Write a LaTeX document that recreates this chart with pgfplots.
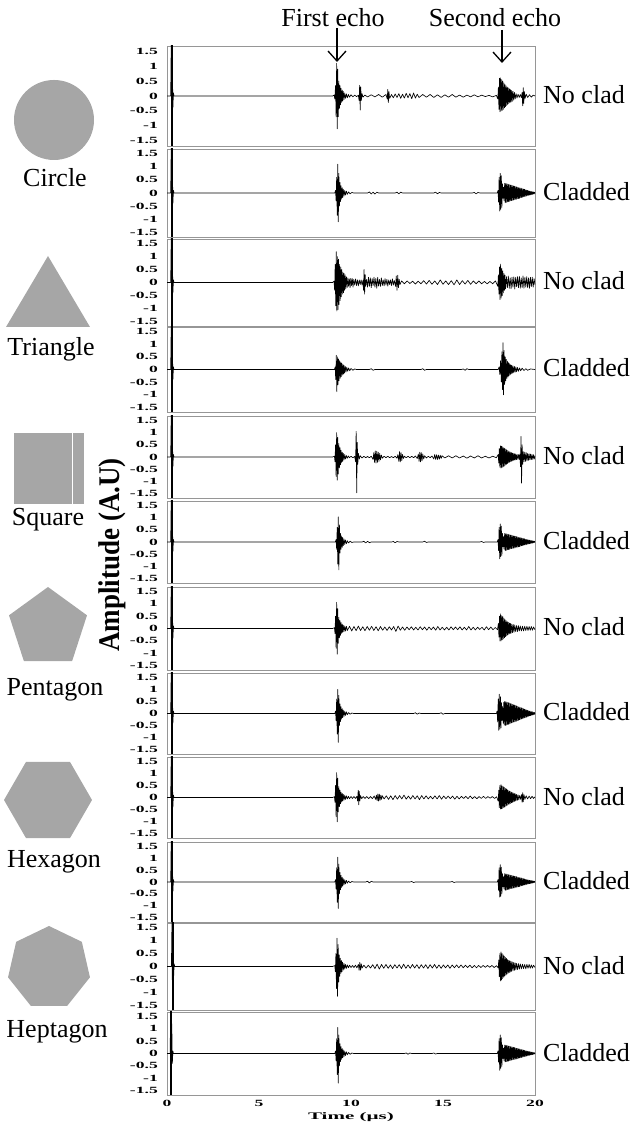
\documentclass[border=0pt]{standalone}
\usepackage{fontspec}
\setmainfont{Liberation Serif}
\usepackage{graphicx}
\usepackage{pgfplots}
\pgfplotsset{compat=1.18}
\usetikzlibrary{arrows.meta, shapes.geometric}
\definecolor{shapegray}{RGB}{166,166,166}
\definecolor{framegray}{RGB}{150,150,150}
\newcommand{\tk}[1]{\scalebox{1.85}[1]{\fontsize{9.5}{10}\selectfont\bfseries #1}}
\newcommand{\lab}{\fontsize{26}{28}\selectfont}
\pgfplotsset{
  panel/.style={scale only axis, width=368pt, anchor=south west,
    xmin=0, xmax=20, ymin=-1.68, ymax=1.68,
    axis line style={draw=framegray, line width=0.7pt},
    ytick={-1.5,-1,-0.5,0,0.5,1,1.5},
    yticklabels={\tk{-1.5},\tk{-1},\tk{-0.5},\tk{0},\tk{0.5},\tk{1},\tk{1.5}},
    xtick=\empty, major tick length=0pt,
    yticklabel style={inner sep=0pt, xshift=-9pt},
  },
  sig/.style={black, line width=0.65pt, line join=round, mark=none},
  pulse/.style={black, line width=1.3pt, mark=none},
}
\begin{document}
\begin{tikzpicture}[x=1pt,y=1pt]
\useasboundingbox (0,0) rectangle (635,1124);

% ---- panel 1: circle, no clad
\begin{axis}[panel, at={(167pt,978pt)}, height=100pt]
\addplot[pulse] coordinates {(0.27,-1.8) (0.27,1.8)};
\addplot[sig] coordinates {(0,0) (0.20,0) (0.23,1.8) (0.26,-1.8) (0.29,1.2) (0.32,-0.4) (0.35,0.1) (0.38,0) (9.0,0) (9.08,0.03)
(9.12,-0.1) (9.16,0.35) (9.19,-0.7) (9.22,1.1) (9.25,-1.1) (9.28,0.9) (9.31,-0.7) (9.34,0.5) (9.37,-0.42) (9.40,0.35) (9.43,-0.3) (9.46,0.26) (9.49,-0.22) (9.52,0.2) (9.55,-0.17) (9.58,0.15) (9.62,-0.12) (9.66,0.1) (9.70,-0.08) (9.75,0.07) (9.80,-0.06) (9.86,0.05) (9.92,-0.04) (10.0,0.04) (10.1,-0.03) (10.2,0.03) (10.3,-0.02) (10.40,0.02)
(10.44,-0.15) (10.47,0.36) (10.50,-0.47) (10.53,0.3) (10.56,-0.15) (10.60,0.08) (10.65,-0.04) (10.75,0.03)
(10.9,-0.03) (11.1,0.04) (11.3,-0.03) (11.5,0.05) (11.7,-0.04) (11.9,0.05)
(11.97,-0.1) (12.0,0.22) (12.03,-0.22) (12.06,0.15) (12.1,-0.08) (12.2,0.05)
(12.3,-0.06) (12.4,0.07) (12.5,-0.05) (12.6,0.08) (12.7,-0.08) (12.8,0.06) (12.9,-0.07) (13.0,0.09) (13.1,-0.06) (13.2,0.08) (13.3,-0.09) (13.4,0.1) (13.5,-0.07) (13.6,0.06) (13.7,-0.05)
(13.9,0.05) (14.1,-0.04) (14.3,0.05) (14.5,-0.05) (14.7,0.04) (14.9,-0.05) (15.1,0.04) (15.3,-0.04) (15.5,0.05) (15.7,-0.04) (15.9,0.03) (16.1,-0.04) (16.3,0.03) (16.5,-0.03) (16.7,0.04) (16.9,-0.03) (17.1,0.03) (17.3,-0.02) (17.5,0.02) (17.7,-0.03) (17.9,0.02)
(17.98,-0.1) (18.01,0.3) (18.04,-0.45) (18.07,0.6) (18.10,-0.53) (18.13,0.61) (18.16,-0.5) (18.19,0.55) (18.22,-0.48) (18.25,0.5) (18.28,-0.45) (18.31,0.44) (18.34,-0.4) (18.37,0.38) (18.40,-0.36) (18.43,0.34) (18.46,-0.32) (18.49,0.3) (18.52,-0.28) (18.55,0.27) (18.58,-0.25) (18.61,0.24) (18.64,-0.22) (18.67,0.21) (18.70,-0.2) (18.73,0.19) (18.76,-0.18) (18.80,0.16) (18.84,-0.14) (18.88,0.12) (18.92,-0.1) (18.97,0.08) (19.02,-0.07) (19.08,0.06) (19.14,-0.05) (19.2,0.05) (19.26,-0.06)
(19.30,0.12) (19.33,-0.33) (19.36,0.28) (19.39,-0.25) (19.42,0.15) (19.46,-0.08) (19.52,0.06) (19.6,-0.05) (19.7,0.04) (19.8,-0.04) (19.9,0.03) (20,0)};
\end{axis}

% ---- panel 2: circle, cladded
\begin{axis}[panel, at={(167pt,887pt)}, height=88pt]
\addplot[pulse] coordinates {(0.27,-1.8) (0.27,1.8)};
\addplot[sig] coordinates {(0,0) (0.20,0) (0.23,1.8) (0.26,-1.8) (0.29,1.2) (0.32,-0.4) (0.35,0.1) (0.38,0)
(9.12,0) (9.16,0.1) (9.19,-0.3) (9.22,0.6) (9.25,-0.85) (9.28,1.1) (9.31,-1.1) (9.34,0.75) (9.37,-0.5) (9.40,0.4) (9.43,-0.33) (9.46,0.28) (9.49,-0.24) (9.52,0.2) (9.55,-0.17) (9.58,0.14) (9.62,-0.12) (9.66,0.1) (9.70,-0.08) (9.75,0.07) (9.80,-0.05) (9.87,0.04) (9.95,-0.03) (10.05,0.02) (10.15,0)
(10.9,0) (11.0,0.04) (11.1,-0.04) (11.2,0.03) (11.3,-0.04) (11.4,0.03) (11.5,0) (12.4,0) (12.5,0.03) (12.6,-0.03) (12.7,0.03) (12.8,0) (14.5,0) (14.6,0.03) (14.7,-0.03) (14.8,0.02) (14.9,0) (16.6,0) (16.7,0.02) (16.8,-0.03) (16.9,0.02) (17.0,0) (17.95,0)
(17.99,0.1) (18.02,-0.35) (18.05,0.6) (18.08,-0.69) (18.11,0.75) (18.14,-0.62) (18.17,0.66) (18.20,-0.55) (18.23,0.35) (18.26,-0.2) (18.29,0.22) (18.32,-0.3)
(18.35,0.37) (18.38,-0.37) (18.41,0.36) (18.44,-0.36) (18.47,0.35) (18.50,-0.34) (18.53,0.34) (18.56,-0.33) (18.59,0.32) (18.62,-0.32) (18.65,0.31) (18.68,-0.30) (18.71,0.30) (18.74,-0.29) (18.77,0.28) (18.80,-0.28) (18.83,0.27) (18.86,-0.26) (18.89,0.26) (18.92,-0.25) (18.95,0.24) (18.98,-0.24) (19.01,0.23) (19.04,-0.22) (19.07,0.22) (19.10,-0.21) (19.13,0.20) (19.16,-0.20) (19.19,0.19) (19.22,-0.18) (19.25,0.18) (19.28,-0.17) (19.31,0.16) (19.34,-0.16) (19.37,0.15) (19.40,-0.14) (19.43,0.14) (19.46,-0.13) (19.49,0.12) (19.52,-0.12) (19.55,0.11) (19.58,-0.10) (19.61,0.10) (19.64,-0.09) (19.67,0.08) (19.70,-0.08) (19.73,0.07) (19.76,-0.07) (19.79,0.06) (19.82,-0.06) (19.85,0.05) (19.88,-0.05) (19.91,0.04) (19.94,-0.04) (19.97,0.03) (20.00,-0.02)};
\end{axis}

% ---- panel 3: triangle, no clad
\begin{axis}[panel, at={(167pt,798pt)}, height=87pt]
\addplot[pulse] coordinates {(0.27,-1.8) (0.27,1.8)};
\addplot[sig] coordinates {(0,0) (0.20,0) (0.23,1.8) (0.26,-1.8) (0.29,1.2) (0.32,-0.4) (0.35,0.1) (0.38,0) (9.0,0) (9.08,0.05)
(9.11,-0.3) (9.14,0.7) (9.17,-0.9) (9.20,1.19) (9.23,-1.1) (9.26,1.0) (9.29,-1.05) (9.32,0.9) (9.35,-0.85) (9.38,0.7) (9.41,-0.7) (9.44,0.6) (9.47,-0.55) (9.50,0.5) (9.53,-0.45) (9.56,0.4) (9.59,-0.4) (9.62,0.35) (9.65,-0.3) (9.68,0.3) (9.71,-0.25) (9.75,0.22) (9.79,-0.2) (9.83,0.18) (9.87,-0.15) (9.91,0.14) (9.95,-0.2) (9.99,0.16) (10.03,-0.12) (10.07,0.15) (10.11,-0.18) (10.15,0.12) (10.2,-0.1) (10.25,0.14) (10.3,-0.12) (10.35,0.1) (10.4,-0.13) (10.45,0.1) (10.5,-0.08) (10.55,0.1) (10.6,-0.1) (10.65,0.08)
(10.68,-0.3) (10.71,0.5) (10.74,-0.45) (10.77,0.3) (10.8,-0.15)
(10.85,0.12) (10.9,-0.18) (10.95,0.2) (11.0,-0.15) (11.05,0.18) (11.1,-0.2) (11.15,0.15) (11.2,-0.12) (11.25,0.2) (11.3,-0.18) (11.35,0.16) (11.4,-0.22) (11.45,0.2) (11.5,-0.14) (11.55,0.12) (11.6,-0.15) (11.65,0.18) (11.7,-0.12) (11.75,0.1) (11.8,-0.13) (11.85,0.15) (11.9,-0.1) (11.95,0.12) (12.0,-0.14) (12.05,0.1) (12.1,-0.08) (12.15,0.1) (12.2,-0.12) (12.25,0.14) (12.3,-0.1) (12.35,0.08)
(12.42,-0.15) (12.46,0.25) (12.5,-0.3) (12.54,0.28) (12.58,-0.2) (12.62,0.12) (12.66,-0.08)
(12.75,0.06) (12.9,-0.05) (13.05,0.06) (13.2,-0.04) (13.35,0.05) (13.5,-0.06) (13.65,0.05) (13.8,-0.05) (13.95,0.07) (14.1,-0.06) (14.25,0.08) (14.4,-0.07) (14.55,0.06) (14.7,-0.08) (14.85,0.1) (15.0,-0.07) (15.15,0.06) (15.3,-0.08) (15.45,0.07) (15.6,-0.09) (15.75,0.1) (15.9,-0.08) (16.05,0.07) (16.2,-0.06) (16.35,0.08) (16.5,-0.07) (16.65,0.06) (16.8,-0.05) (16.95,0.06) (17.1,-0.05) (17.25,0.04) (17.4,-0.05) (17.55,0.04) (17.7,-0.05) (17.85,0.06)
(17.98,-0.15) (18.01,0.3) (18.04,-0.45) (18.07,0.6) (18.10,-0.66) (18.13,0.71) (18.16,-0.6) (18.19,0.55) (18.22,-0.5) (18.25,0.45) (18.28,-0.4) (18.31,0.35) (18.34,-0.3) (18.37,0.28) (18.40,-0.25)
(18.45,0.22) (18.5,-0.2) (18.55,0.25) (18.6,-0.22) (18.65,0.18) (18.7,-0.24) (18.75,0.2) (18.8,-0.18) (18.85,0.22) (18.9,-0.25) (18.95,0.2) (19.0,-0.16) (19.05,0.22) (19.1,-0.2) (19.15,0.24) (19.2,-0.22) (19.25,0.18) (19.3,-0.2) (19.35,0.25) (19.4,-0.22) (19.45,0.2) (19.5,-0.18) (19.55,0.22) (19.6,-0.2) (19.65,0.18) (19.7,-0.22) (19.75,0.2) (19.8,-0.16) (19.85,0.2) (19.9,-0.18) (19.95,0.15) (20,-0.1)};
\end{axis}

% ---- panel 4: triangle, cladded
\begin{axis}[panel, at={(167pt,712pt)}, height=85pt]
\addplot[pulse] coordinates {(0.27,-1.8) (0.27,1.8)};
\addplot[sig] coordinates {(0,0) (0.20,0) (0.23,1.8) (0.26,-1.8) (0.29,1.2) (0.32,-0.4) (0.35,0.1) (0.38,0)
(9.1,0) (9.14,0.1) (9.17,-0.4) (9.20,0.56) (9.23,-0.88) (9.26,0.5) (9.29,-0.6) (9.32,0.42) (9.35,-0.45) (9.38,0.35) (9.41,-0.35) (9.44,0.3) (9.47,-0.28) (9.50,0.25) (9.53,-0.22) (9.56,0.2) (9.59,-0.18) (9.62,0.16) (9.65,-0.14) (9.69,0.12) (9.73,-0.1) (9.77,0.09) (9.82,-0.07) (9.87,0.06) (9.93,-0.05) (10.0,0.04) (10.1,-0.03) (10.2,0.02) (10.3,0)
(11.0,0) (11.1,0.03) (11.2,-0.03) (11.3,0) (13.8,0) (13.9,0.03) (14.0,-0.03) (14.1,0) (16.0,0) (16.1,0.02) (16.2,-0.03) (16.3,0.03) (16.4,0) (18.0,0)
(18.05,0.1) (18.09,-0.2) (18.13,0.35) (18.17,-0.5) (18.20,0.7) (18.23,-0.8) (18.26,1.06) (18.29,-1.0) (18.32,0.75) (18.35,-0.6) (18.38,0.5) (18.41,-0.45) (18.44,0.4) (18.47,-0.36) (18.50,0.33) (18.53,-0.3) (18.56,0.27) (18.59,-0.25) (18.62,0.23) (18.65,-0.21) (18.68,0.19) (18.71,-0.17) (18.74,0.16) (18.77,-0.15) (18.80,0.14) (18.84,-0.13) (18.88,0.12) (18.92,-0.11) (18.96,0.1) (19.0,-0.09) (19.05,0.08) (19.1,-0.07) (19.16,0.06) (19.22,-0.05) (19.3,0.05) (19.4,-0.04) (19.5,0.03) (19.6,-0.03) (19.75,0.02) (20,0)};
\end{axis}

% ---- panel 5: square, no clad
\begin{axis}[panel, at={(167pt,626pt)}, height=82pt]
\addplot[pulse] coordinates {(0.27,-1.8) (0.27,1.8)};
\addplot[sig] coordinates {(0,0) (0.20,0) (0.23,1.8) (0.26,-1.8) (0.29,1.2) (0.32,-0.4) (0.35,0.1) (0.38,0) (9.0,0) (9.1,0.03)
(9.13,-0.2) (9.16,0.5) (9.19,-0.8) (9.22,1.0) (9.25,-0.95) (9.28,0.8) (9.31,-0.7) (9.34,0.55) (9.37,-0.45) (9.40,0.38) (9.43,-0.32) (9.46,0.28) (9.49,-0.24) (9.52,0.2) (9.55,-0.18) (9.58,0.15) (9.62,-0.12) (9.66,0.1) (9.70,-0.08) (9.75,0.06) (9.80,-0.05) (9.86,0.04) (9.92,-0.03) (10.0,0.03) (10.1,-0.03) (10.2,0.02)
(10.25,-0.2) (10.28,1.05) (10.31,-1.47) (10.34,0.6) (10.37,-0.3) (10.40,0.15) (10.45,-0.08) (10.5,0.05) (10.6,-0.04) (10.7,0.03) (10.8,-0.03) (10.9,0.02) (11.0,-0.03) (11.1,0.03)
(11.2,-0.1) (11.24,0.18) (11.28,-0.22) (11.32,0.25) (11.36,-0.25) (11.40,0.24) (11.44,-0.22) (11.48,0.2) (11.52,-0.18) (11.56,0.15) (11.60,-0.12) (11.65,0.08) (11.7,-0.05) (11.8,0.03) (11.9,-0.03) (12.0,0.03) (12.1,-0.03) (12.2,0.02) (12.3,-0.03) (12.4,0.03) (12.5,-0.05)
(12.55,0.1) (12.6,-0.18) (12.64,0.22) (12.68,-0.2) (12.72,0.18) (12.76,-0.15) (12.8,0.1) (12.85,-0.06) (12.9,0.03) (13.0,-0.03) (13.1,0.03) (13.2,-0.03) (13.3,0.03) (13.4,-0.03) (13.5,0.04) (13.6,-0.06)
(13.66,0.12) (13.70,-0.18) (13.74,0.2) (13.78,-0.2) (13.82,0.18) (13.86,-0.16) (13.90,0.12) (13.95,-0.08) (14.0,0.05) (14.1,-0.04) (14.2,0.03) (14.3,-0.03) (14.4,0.04)
(14.5,-0.08) (14.55,0.1) (14.6,-0.1) (14.65,0.09) (14.7,-0.1) (14.75,0.08) (14.8,-0.09) (14.85,0.07) (14.9,-0.06) (14.95,0.05)
(15.1,-0.04) (15.3,0.05) (15.5,-0.04) (15.7,0.05) (15.9,-0.04) (16.1,0.04) (16.3,-0.05) (16.5,0.04) (16.7,-0.04) (16.9,0.05) (17.1,-0.04) (17.3,0.03) (17.5,-0.04) (17.7,0.03) (17.9,-0.03)
(18.0,0.1) (18.03,-0.25) (18.06,0.35) (18.09,-0.42) (18.12,0.46) (18.15,-0.45) (18.18,0.44) (18.21,-0.43) (18.24,0.42) (18.27,-0.4) (18.30,0.38) (18.33,-0.37) (18.36,0.35) (18.39,-0.33) (18.42,0.32) (18.45,-0.3) (18.48,0.28) (18.51,-0.27) (18.54,0.25) (18.57,-0.24) (18.60,0.22) (18.63,-0.21) (18.66,0.2) (18.69,-0.19) (18.72,0.18) (18.75,-0.17) (18.78,0.16) (18.81,-0.15) (18.84,0.14) (18.87,-0.13) (18.90,0.13) (18.93,-0.12) (18.96,0.12) (18.99,-0.11) (19.03,0.1) (19.07,-0.1) (19.11,0.1) (19.15,-0.1) (19.18,0.12)
(19.21,-0.4) (19.24,0.84) (19.27,-1.07) (19.30,0.5) (19.33,-0.3) (19.36,0.22) (19.40,-0.2) (19.44,0.2) (19.48,-0.18) (19.52,0.18) (19.56,-0.16) (19.60,0.15) (19.64,-0.14) (19.68,0.13) (19.72,-0.12) (19.76,0.12) (19.80,-0.11) (19.84,0.1) (19.88,-0.1) (19.92,0.09) (19.96,-0.08) (20,0.05)};
\end{axis}

% ---- panel 6: square, cladded
\begin{axis}[panel, at={(167pt,541pt)}, height=82pt]
\addplot[pulse] coordinates {(0.27,-1.8) (0.27,1.8)};
\addplot[sig] coordinates {(0,0) (0.20,0) (0.23,1.8) (0.26,-1.8) (0.29,1.2) (0.32,-0.4) (0.35,0.1) (0.38,0)
(9.15,0) (9.19,0.1) (9.22,-0.3) (9.25,0.6) (9.28,-0.9) (9.31,1.03) (9.34,-1.14) (9.37,0.7) (9.40,-0.45) (9.43,0.35) (9.46,-0.3) (9.49,0.25) (9.52,-0.22) (9.55,0.18) (9.58,-0.15) (9.62,0.12) (9.66,-0.1) (9.70,0.08) (9.75,-0.07) (9.80,0.05) (9.87,-0.04) (9.95,0.03) (10.05,-0.02) (10.15,0)
(10.6,0) (10.7,0.03) (10.8,-0.04) (10.9,0.03) (11.0,-0.03) (11.1,0) (12.2,0) (12.3,0.02) (12.4,-0.03) (12.5,0.02) (12.6,0) (13.9,0) (14.0,0.03) (14.1,-0.02) (14.2,0) (17.0,0) (17.1,0.02) (17.2,-0.02) (17.3,0) (17.95,0)
(17.99,0.1) (18.02,-0.35) (18.05,0.6) (18.08,-0.69) (18.11,0.74) (18.14,-0.6) (18.17,0.65) (18.20,-0.55) (18.23,0.35) (18.26,-0.2) (18.29,0.22) (18.32,-0.3)
(18.35,0.35) (18.38,-0.35) (18.41,0.34) (18.44,-0.34) (18.47,0.33) (18.50,-0.32) (18.53,0.32) (18.56,-0.31) (18.59,0.30) (18.62,-0.30) (18.65,0.29) (18.68,-0.28) (18.71,0.28) (18.74,-0.27) (18.77,0.26) (18.80,-0.26) (18.83,0.25) (18.86,-0.25) (18.89,0.24) (18.92,-0.24) (18.95,0.23) (18.98,-0.22) (19.01,0.22) (19.04,-0.21) (19.07,0.20) (19.10,-0.20) (19.13,0.19) (19.16,-0.19) (19.19,0.18) (19.22,-0.17) (19.25,0.17) (19.28,-0.16) (19.31,0.15) (19.34,-0.15) (19.37,0.14) (19.40,-0.13) (19.43,0.13) (19.46,-0.12) (19.49,0.11) (19.52,-0.11) (19.55,0.10) (19.58,-0.09) (19.61,0.09) (19.64,-0.08) (19.67,0.08) (19.70,-0.07) (19.73,0.07) (19.76,-0.06) (19.79,0.06) (19.82,-0.05) (19.85,0.05) (19.88,-0.04) (19.91,0.04) (19.94,-0.03) (19.97,0.03) (20.00,-0.02)};
\end{axis}

% ---- panel 7: pentagon, no clad
\begin{axis}[panel, at={(167pt,454pt)}, height=83pt]
\addplot[pulse] coordinates {(0.27,-1.8) (0.27,1.8)};
\addplot[sig] coordinates {(0,0) (0.20,0) (0.23,1.8) (0.26,-1.8) (0.29,1.2) (0.32,-0.4) (0.35,0.1) (0.38,0) (9.0,0) (9.1,0.03)
(9.13,-0.2) (9.16,0.5) (9.19,-0.8) (9.22,1.06) (9.25,-1.04) (9.28,0.8) (9.31,-0.6) (9.34,0.45) (9.37,-0.38) (9.40,0.32) (9.43,-0.28) (9.46,0.24) (9.49,-0.2) (9.52,0.18) (9.55,-0.15) (9.58,0.13) (9.62,-0.12) (9.66,0.1) (9.70,-0.1) (9.75,0.09)
(9.80,-0.08) (9.92,0.09) (10.04,-0.1) (10.16,0.08) (10.28,-0.09) (10.40,0.1) (10.52,-0.08) (10.64,0.07) (10.76,-0.09) (10.88,0.08) (11.00,-0.07) (11.12,0.09) (11.24,-0.08) (11.36,0.07) (11.48,-0.09) (11.60,0.08) (11.72,-0.07) (11.84,0.06) (11.96,-0.08) (12.08,0.07) (12.20,-0.06) (12.32,0.08) (12.44,-0.12) (12.56,0.1) (12.68,-0.07) (12.80,0.06) (12.92,-0.07) (13.04,0.06) (13.16,-0.05) (13.28,0.07) (13.40,-0.06) (13.52,0.05) (13.64,-0.06) (13.76,0.07) (13.88,-0.05) (14.00,0.06) (14.12,-0.07) (14.24,0.06) (14.36,-0.05) (14.48,0.06) (14.60,-0.07) (14.72,0.08) (14.84,-0.06) (14.96,0.05) (15.08,-0.06) (15.20,0.05) (15.32,-0.06) (15.44,0.07) (15.56,-0.05) (15.68,0.06) (15.80,-0.05) (15.92,0.07) (16.04,-0.06) (16.16,0.05) (16.28,-0.06) (16.40,0.08) (16.52,-0.06) (16.64,0.05) (16.76,-0.06) (16.88,0.05) (17.00,-0.04) (17.12,0.05) (17.24,-0.06) (17.36,0.07) (17.48,-0.05) (17.60,0.06) (17.72,-0.05) (17.84,0.04) (17.96,-0.05)
(18.01,0.2) (18.04,-0.35) (18.07,0.5) (18.10,-0.51) (18.13,0.59) (18.16,-0.5) (18.19,0.52) (18.22,-0.46) (18.25,0.48) (18.28,-0.42) (18.31,0.42) (18.34,-0.38) (18.37,0.36) (18.40,-0.33) (18.43,0.32) (18.46,-0.3) (18.49,0.28) (18.52,-0.26) (18.55,0.25) (18.58,-0.23) (18.61,0.22) (18.64,-0.21) (18.67,0.2) (18.70,-0.19) (18.74,0.18) (18.78,-0.17) (18.82,0.16) (18.86,-0.15) (18.90,0.14) (18.95,-0.13) (19.00,0.12) (19.05,-0.12) (19.10,0.11) (19.15,-0.1) (19.20,0.1) (19.26,-0.1) (19.32,0.09) (19.38,-0.1) (19.44,0.09) (19.50,-0.08) (19.56,0.09) (19.62,-0.08) (19.68,0.08) (19.74,-0.07) (19.80,0.08) (19.86,-0.07) (19.92,0.06) (20,-0.05)};
\end{axis}

% ---- panel 8: pentagon, cladded
\begin{axis}[panel, at={(167pt,370pt)}, height=81pt]
\addplot[pulse] coordinates {(0.27,-1.8) (0.27,1.8)};
\addplot[sig] coordinates {(0,0) (0.20,0) (0.23,1.8) (0.26,-1.8) (0.29,1.2) (0.32,-0.4) (0.35,0.1) (0.38,0)
(9.12,0) (9.16,0.1) (9.19,-0.3) (9.22,0.6) (9.25,-0.85) (9.28,1.0) (9.31,-1.2) (9.34,0.75) (9.37,-0.5) (9.40,0.4) (9.43,-0.33) (9.46,0.28) (9.49,-0.24) (9.52,0.2) (9.55,-0.17) (9.58,0.14) (9.62,-0.12) (9.66,0.1) (9.70,-0.08) (9.75,0.07) (9.80,-0.05) (9.87,0.04) (9.95,-0.03) (10.05,0.02) (10.15,0)
(13.4,0) (13.5,0.03) (13.6,-0.03) (13.7,0.02) (13.8,0) (14.8,0) (14.9,0.03) (15.0,-0.03) (15.1,0) (17.9,0)
(17.94,0.1) (17.97,-0.35) (18.00,0.6) (18.03,-0.7) (18.06,0.8) (18.09,-0.65) (18.12,0.7) (18.15,-0.6) (18.18,0.45) (18.21,-0.3) (18.24,0.3) (18.27,-0.4) (18.30,0.46) (18.32,-0.48)
(18.35,0.50) (18.38,-0.50) (18.41,0.49) (18.44,-0.48) (18.47,0.47) (18.50,-0.46) (18.53,0.46) (18.56,-0.45) (18.59,0.44) (18.62,-0.43) (18.65,0.42) (18.68,-0.41) (18.71,0.40) (18.74,-0.39) (18.77,0.38) (18.80,-0.37) (18.83,0.36) (18.86,-0.35) (18.89,0.35) (18.92,-0.34) (18.95,0.33) (18.98,-0.32) (19.01,0.31) (19.04,-0.30) (19.07,0.29) (19.10,-0.28) (19.13,0.27) (19.16,-0.26) (19.19,0.25) (19.22,-0.24) (19.25,0.24) (19.28,-0.23) (19.31,0.22) (19.34,-0.21) (19.37,0.20) (19.40,-0.19) (19.43,0.18) (19.46,-0.17) (19.49,0.16) (19.52,-0.16) (19.55,0.15) (19.58,-0.14) (19.61,0.13) (19.64,-0.12) (19.67,0.11) (19.70,-0.10) (19.73,0.10) (19.76,-0.09) (19.79,0.08) (19.82,-0.07) (19.85,0.07) (19.88,-0.06) (19.91,0.05) (19.94,-0.05) (19.97,0.04) (20.00,-0.03)};
\end{axis}

% ---- panel 9: hexagon, no clad
\begin{axis}[panel, at={(167pt,286pt)}, height=81pt]
\addplot[pulse] coordinates {(0.27,-1.8) (0.27,1.8)};
\addplot[sig] coordinates {(0,0) (0.20,0) (0.23,1.8) (0.26,-1.8) (0.29,1.2) (0.32,-0.4) (0.35,0.1) (0.38,0) (9.0,0) (9.1,0.03)
(9.13,-0.2) (9.16,0.5) (9.19,-0.8) (9.22,1.03) (9.25,-1.01) (9.28,0.8) (9.31,-0.6) (9.34,0.45) (9.37,-0.38) (9.40,0.3) (9.43,-0.26) (9.46,0.22) (9.49,-0.19) (9.52,0.17) (9.55,-0.15) (9.58,0.13) (9.62,-0.11) (9.66,0.1) (9.70,-0.08) (9.75,0.07) (9.80,-0.06) (9.86,0.05) (9.92,-0.05) (10.0,0.04) (10.08,-0.04) (10.16,0.04) (10.24,-0.04) (10.32,0.05)
(10.36,-0.15) (10.39,0.3) (10.42,-0.3) (10.45,0.25) (10.48,-0.15) (10.52,0.08) (10.58,-0.05) (10.66,0.04) (10.76,-0.04) (10.86,0.04) (10.96,-0.05) (11.06,0.04) (11.16,-0.05) (11.26,0.06)
(11.34,-0.08) (11.38,0.1) (11.42,-0.13) (11.46,0.15) (11.50,-0.15) (11.54,0.14) (11.58,-0.12) (11.62,0.1) (11.66,-0.08) (11.70,0.07)
(11.80,-0.06) (11.92,0.07) (12.04,-0.08) (12.16,0.07) (12.28,-0.09) (12.40,0.08) (12.52,-0.07) (12.64,0.08) (12.76,-0.06) (12.88,0.1) (13.00,-0.07) (13.12,0.06) (13.24,-0.07) (13.36,0.08) (13.48,-0.06) (13.60,0.07) (13.72,-0.09) (13.84,0.08) (13.96,-0.06) (14.08,0.07) (14.20,-0.06) (14.32,0.05) (14.44,-0.06) (14.56,0.07) (14.68,-0.06) (14.80,0.08) (14.92,-0.07) (15.04,0.06) (15.16,-0.05) (15.28,0.06) (15.40,-0.05) (15.52,0.06) (15.64,-0.07) (15.76,0.05) (15.88,-0.06) (16.00,0.05) (16.12,-0.04) (16.24,0.05) (16.36,-0.05) (16.48,0.06) (16.60,-0.05) (16.72,0.04) (16.84,-0.05) (16.96,0.04) (17.08,-0.04) (17.20,0.05) (17.32,-0.04) (17.44,0.04) (17.56,-0.03) (17.68,0.04) (17.80,-0.04) (17.92,0.03)
(18.00,-0.15) (18.03,0.3) (18.06,-0.42) (18.09,0.5) (18.12,-0.48) (18.15,0.53) (18.18,-0.47) (18.21,0.48) (18.24,-0.45) (18.27,0.45) (18.30,-0.42) (18.33,0.42) (18.36,-0.4) (18.39,0.38) (18.42,-0.36) (18.45,0.35) (18.48,-0.33) (18.51,0.32) (18.54,-0.3) (18.57,0.28) (18.60,-0.27) (18.63,0.26) (18.66,-0.25) (18.69,0.24) (18.72,-0.22) (18.75,0.21) (18.78,-0.2) (18.81,0.19) (18.84,-0.18) (18.87,0.17) (18.90,-0.16) (18.93,0.15) (18.96,-0.14) (19.00,0.13) (19.04,-0.12) (19.08,0.11) (19.12,-0.1) (19.17,0.09) (19.22,-0.08)
(19.27,0.12) (19.30,-0.2) (19.33,0.2) (19.36,-0.18) (19.40,0.12) (19.45,-0.08) (19.52,0.07) (19.6,-0.06) (19.68,0.06) (19.76,-0.05) (19.84,0.05) (19.92,-0.04) (20,0.03)};
\end{axis}

% ---- panel 10: hexagon, cladded
\begin{axis}[panel, at={(167pt,202pt)}, height=80pt]
\addplot[pulse] coordinates {(0.27,-1.8) (0.27,1.8)};
\addplot[sig] coordinates {(0,0) (0.20,0) (0.23,1.8) (0.26,-1.8) (0.29,1.2) (0.32,-0.4) (0.35,0.1) (0.38,0)
(9.12,0) (9.16,0.1) (9.19,-0.3) (9.22,0.6) (9.25,-0.85) (9.28,1.04) (9.31,-1.11) (9.34,0.75) (9.37,-0.5) (9.40,0.4) (9.43,-0.33) (9.46,0.28) (9.49,-0.24) (9.52,0.2) (9.55,-0.17) (9.58,0.14) (9.62,-0.12) (9.66,0.1) (9.70,-0.08) (9.75,0.07) (9.80,-0.05) (9.87,0.04) (9.95,-0.03) (10.05,0.02) (10.15,0)
(10.8,0) (10.9,0.03) (11.0,-0.04) (11.1,0.03) (11.2,0) (13.2,0) (13.3,0.02) (13.4,-0.02) (13.5,0) (15.4,0) (15.5,0.02) (15.6,-0.02) (15.7,0) (17.95,0)
(17.99,0.1) (18.02,-0.35) (18.05,0.6) (18.08,-0.63) (18.11,0.73) (18.14,-0.6) (18.17,0.62) (18.20,-0.5) (18.23,0.35) (18.26,-0.2) (18.29,0.22) (18.32,-0.3)
(18.35,0.35) (18.38,-0.35) (18.41,0.34) (18.44,-0.34) (18.47,0.33) (18.50,-0.32) (18.53,0.32) (18.56,-0.31) (18.59,0.30) (18.62,-0.30) (18.65,0.29) (18.68,-0.28) (18.71,0.28) (18.74,-0.27) (18.77,0.26) (18.80,-0.26) (18.83,0.25) (18.86,-0.25) (18.89,0.24) (18.92,-0.24) (18.95,0.23) (18.98,-0.22) (19.01,0.22) (19.04,-0.21) (19.07,0.20) (19.10,-0.20) (19.13,0.19) (19.16,-0.19) (19.19,0.18) (19.22,-0.17) (19.25,0.17) (19.28,-0.16) (19.31,0.15) (19.34,-0.15) (19.37,0.14) (19.40,-0.13) (19.43,0.13) (19.46,-0.12) (19.49,0.11) (19.52,-0.11) (19.55,0.10) (19.58,-0.09) (19.61,0.09) (19.64,-0.08) (19.67,0.08) (19.70,-0.07) (19.73,0.07) (19.76,-0.06) (19.79,0.06) (19.82,-0.05) (19.85,0.05) (19.88,-0.04) (19.91,0.04) (19.94,-0.03) (19.97,0.03) (20.00,-0.02)};
\end{axis}

% ---- panel 11: heptagon, no clad
\begin{axis}[panel, at={(167pt,114pt)}, height=87pt]
\addplot[pulse] coordinates {(0.33,-1.8) (0.33,1.8)};
\addplot[sig] coordinates {(0,0) (0.24,0) (0.27,1.8) (0.30,-1.8) (0.33,1.2) (0.36,-0.4) (0.39,0.1) (0.42,0) (9.0,0) (9.1,0.03)
(9.12,0.03) (9.15,-0.2) (9.18,0.5) (9.21,-0.85) (9.24,1.09) (9.27,-1.15) (9.30,0.85) (9.33,-0.6) (9.36,0.45) (9.39,-0.38) (9.42,0.32) (9.45,-0.27) (9.48,0.23) (9.51,-0.2) (9.54,0.17) (9.58,-0.14) (9.62,0.12) (9.66,-0.1) (9.70,0.08) (9.75,-0.07) (9.80,0.06) (9.86,-0.05) (9.92,0.05) (10.0,-0.04) (10.08,0.04) (10.16,-0.04) (10.24,0.05) (10.32,-0.05)
(10.40,0.08) (10.44,-0.15) (10.48,0.16) (10.52,-0.14) (10.56,0.1) (10.60,-0.06)
(10.70,0.05) (10.82,-0.06) (10.94,0.05) (11.06,-0.06) (11.18,0.07) (11.30,-0.08) (11.42,0.09) (11.54,-0.1) (11.66,0.08) (11.78,-0.07) (11.90,0.08) (12.02,-0.07) (12.14,0.06) (12.26,-0.08) (12.38,0.07) (12.50,-0.06) (12.62,0.07) (12.74,-0.08) (12.86,0.09) (12.98,-0.07) (13.10,0.06) (13.22,-0.07) (13.34,0.08) (13.46,-0.06) (13.58,0.07) (13.70,-0.08) (13.82,0.07) (13.94,-0.06) (14.06,0.07) (14.18,-0.08) (14.30,0.07) (14.42,-0.06) (14.54,0.08) (14.66,-0.07) (14.78,0.06) (14.90,-0.07) (15.02,0.06) (15.14,-0.05) (15.26,0.06) (15.38,-0.07) (15.50,0.06) (15.62,-0.05) (15.74,0.06) (15.86,-0.05) (15.98,0.06) (16.10,-0.05) (16.22,0.05) (16.34,-0.04) (16.46,0.05) (16.58,-0.05) (16.70,0.04) (16.82,-0.05) (16.94,0.04) (17.06,-0.04) (17.18,0.04) (17.30,-0.03) (17.42,0.04) (17.54,-0.03) (17.66,0.04) (17.78,-0.04) (17.90,0.03) (18.00,-0.05)
(18.03,0.25) (18.06,-0.4) (18.09,0.5) (18.12,-0.56) (18.15,0.56) (18.18,-0.52) (18.21,0.5) (18.24,-0.47) (18.27,0.45) (18.30,-0.42) (18.33,0.4) (18.36,-0.37) (18.39,0.35) (18.42,-0.33) (18.45,0.31) (18.48,-0.29) (18.51,0.27) (18.54,-0.26) (18.57,0.24) (18.60,-0.23) (18.63,0.22) (18.66,-0.21) (18.69,0.2) (18.72,-0.19) (18.76,0.18) (18.80,-0.17) (18.84,0.16) (18.88,-0.15) (18.92,0.14) (18.96,-0.13) (19.00,0.12) (19.05,-0.12) (19.10,0.11) (19.15,-0.1) (19.20,0.1) (19.26,-0.09) (19.32,0.09) (19.38,-0.08) (19.44,0.08) (19.50,-0.09) (19.56,0.08) (19.62,-0.07) (19.68,0.08) (19.74,-0.07) (19.80,0.06) (19.86,-0.06) (19.92,0.05) (20,-0.04)};
\end{axis}

% ---- panel 12: heptagon, cladded
\begin{axis}[panel, at={(167pt,29pt)}, height=83pt,
  xtick={0,5,10,15,20}, xticklabels={\tk{0},\tk{5},\tk{10},\tk{15},\tk{20}},
  xticklabel style={inner sep=0pt, yshift=-5pt}]
\addplot[pulse] coordinates {(0.22,-1.8) (0.22,1.8)};
\addplot[sig] coordinates {(0,0) (0.17,0) (0.20,1.8) (0.23,-1.8) (0.26,1.2) (0.29,-0.4) (0.32,0.1) (0.35,0)
(9.12,0) (9.16,0.1) (9.19,-0.3) (9.22,0.6) (9.25,-0.85) (9.28,1.05) (9.31,-1.2) (9.34,0.75) (9.37,-0.5) (9.40,0.4) (9.43,-0.33) (9.46,0.28) (9.49,-0.24) (9.52,0.2) (9.55,-0.17) (9.58,0.14) (9.62,-0.12) (9.66,0.1) (9.70,-0.08) (9.75,0.07) (9.80,-0.05) (9.87,0.04) (9.95,-0.03) (10.05,0.02) (10.15,0)
(12.9,0) (13.0,0.02) (13.1,-0.03) (13.2,0.02) (13.3,0) (14.4,0) (14.5,0.02) (14.6,-0.02) (14.7,0) (17.95,0)
(17.99,0.1) (18.02,-0.35) (18.05,0.6) (18.08,-0.68) (18.11,0.75) (18.14,-0.6) (18.17,0.64) (18.20,-0.52) (18.23,0.35) (18.26,-0.2) (18.29,0.22) (18.32,-0.3)
(18.35,0.34) (18.38,-0.34) (18.41,0.34) (18.44,-0.33) (18.47,0.33) (18.50,-0.32) (18.53,0.31) (18.56,-0.31) (18.59,0.30) (18.62,-0.29) (18.65,0.29) (18.68,-0.28) (18.71,0.27) (18.74,-0.27) (18.77,0.26) (18.80,-0.25) (18.83,0.25) (18.86,-0.24) (18.89,0.24) (18.92,-0.23) (18.95,0.22) (18.98,-0.22) (19.01,0.21) (19.04,-0.21) (19.07,0.20) (19.10,-0.19) (19.13,0.19) (19.16,-0.18) (19.19,0.17) (19.22,-0.17) (19.25,0.16) (19.28,-0.16) (19.31,0.15) (19.34,-0.14) (19.37,0.14) (19.40,-0.13) (19.43,0.12) (19.46,-0.12) (19.49,0.11) (19.52,-0.11) (19.55,0.10) (19.58,-0.09) (19.61,0.09) (19.64,-0.08) (19.67,0.08) (19.70,-0.07) (19.73,0.07) (19.76,-0.06) (19.79,0.06) (19.82,-0.05) (19.85,0.05) (19.88,-0.04) (19.91,0.04) (19.94,-0.03) (19.97,0.03) (20.00,-0.02)};
\end{axis}

% ---- axis titles
\node at (351,7) {\scalebox{2.1}[1]{\fontsize{10}{11}\selectfont\bfseries Time (µs)}};
\node[rotate=90] at (112,569) {\scalebox{0.9}[1]{\fontsize{30}{32}\selectfont\bfseries Amplitude (A.U)}};

% ---- echo markers
\node[anchor=base] at (333,1097) {\lab First echo};
\node[anchor=base] at (495,1097) {\lab Second echo};
\draw[line width=1.3pt, -{Straight Barb[length=10pt,width=18pt]}] (337,1096) -- (337,1062);
\draw[line width=1.3pt, -{Straight Barb[length=10pt,width=18pt]}] (502,1094) -- (502,1061);

% ---- right labels
\foreach \yy/\tt in {1020/No clad, 923/Cladded, 834/No clad, 747/Cladded, 659/No clad, 574/Cladded, 488/No clad, 403/Cladded, 318/No clad, 234/Cladded, 149/No clad, 62/Cladded}
  \node[anchor=base west, inner sep=0pt] at (543,\yy) {\lab \tt};

% ---- shapes
\fill[shapegray] (54,1004) circle (40);
\fill[shapegray] (6,797) -- (90,797) -- (48,868) -- cycle;
\fill[shapegray] (14,620) rectangle (84,691);
\draw[white, line width=0.8pt] (72,620) -- (72,691);
\node[regular polygon, regular polygon sides=5, minimum size=82pt, inner sep=0pt, fill=shapegray] at (48,496) {};
\node[regular polygon, regular polygon sides=6, minimum size=88pt, inner sep=0pt, fill=shapegray] at (48,324) {};
\node[regular polygon, regular polygon sides=7, minimum size=84pt, inner sep=0pt, fill=shapegray] at (49,156) {};

\node[anchor=base, inner sep=0pt] at (55,937) {\lab Circle};
\node[anchor=base, inner sep=0pt] at (51,768) {\lab Triangle};
\node[anchor=base, inner sep=0pt] at (48,598) {\lab Square};
\node[anchor=base, inner sep=0pt] at (55,428) {\lab Pentagon};
\node[anchor=base, inner sep=0pt] at (54,256) {\lab Hexagon};
\node[anchor=base, inner sep=0pt] at (57,86) {\lab Heptagon};
\end{tikzpicture}
\end{document}
